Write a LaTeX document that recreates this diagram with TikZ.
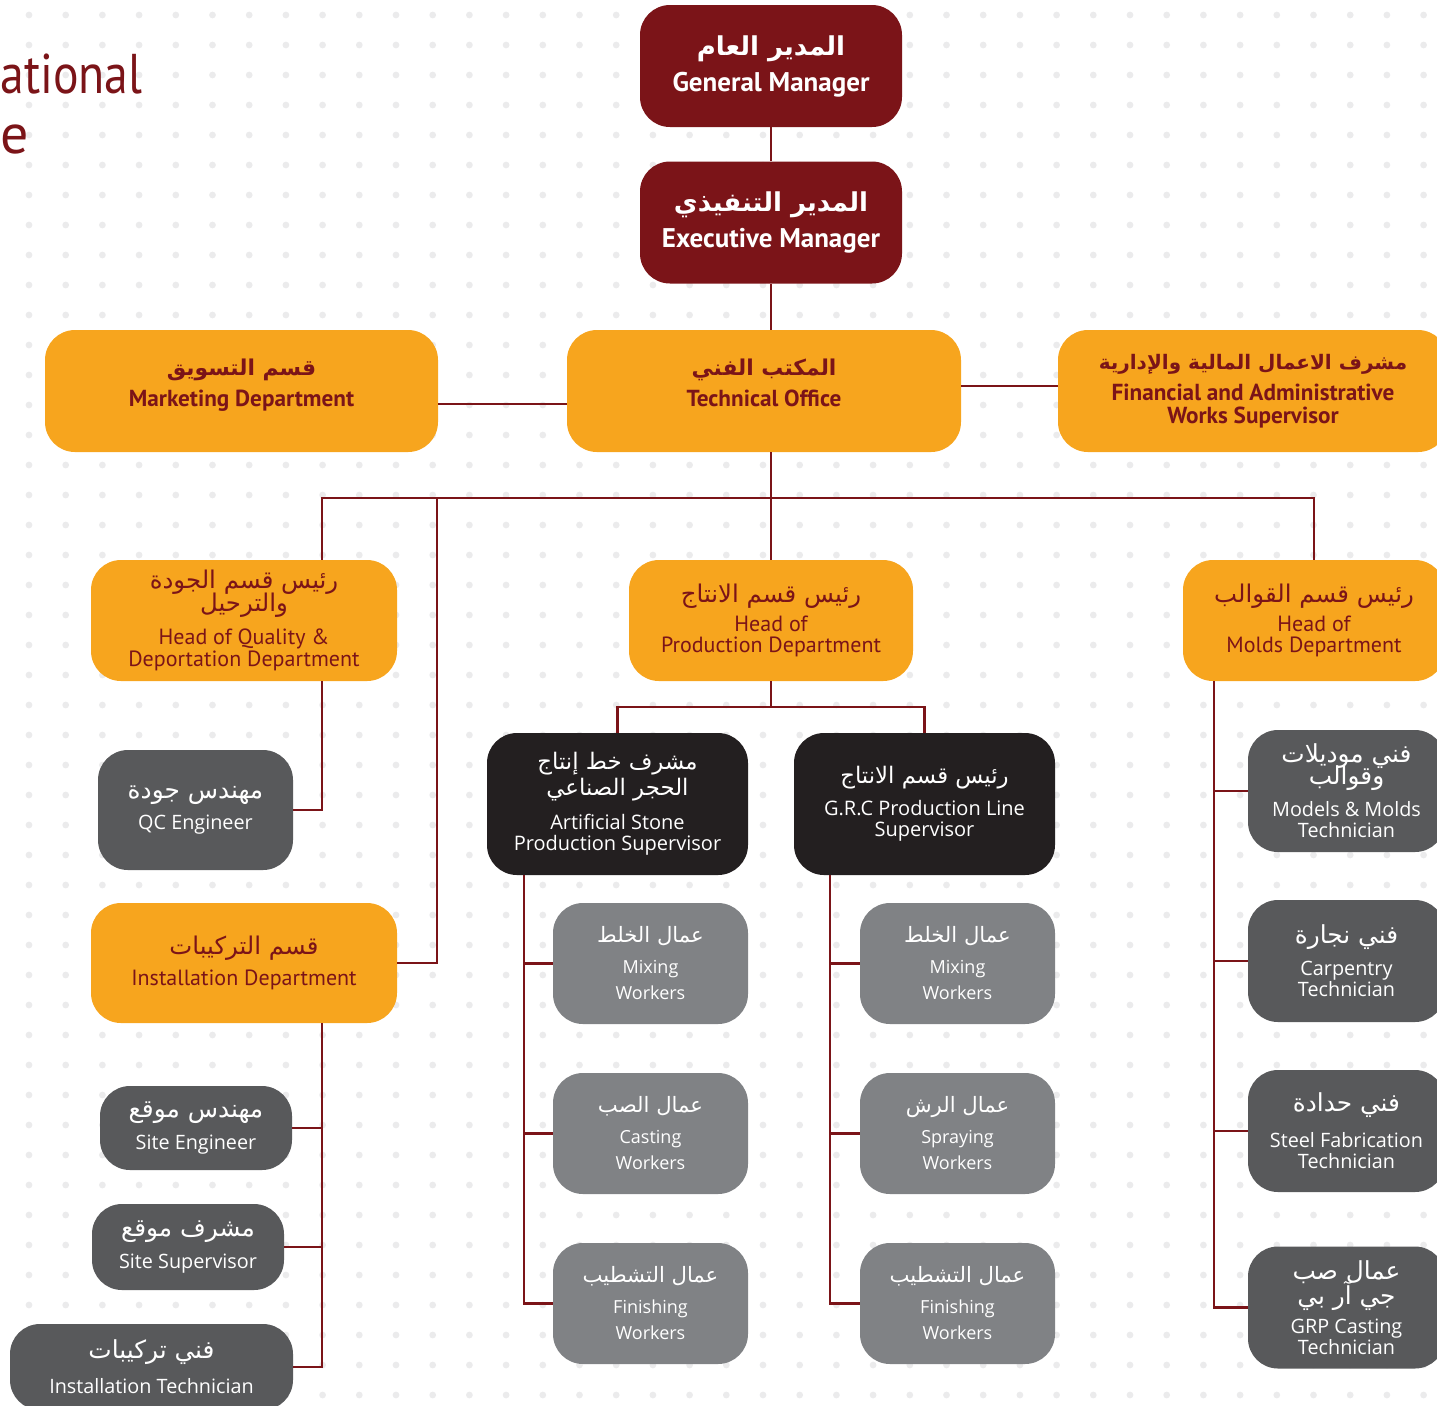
\documentclass[tikz,border=0pt]{standalone}
\usepackage{graphicx}
\usepackage{fontspec}
\setmainfont{PT Sans}
\newfontfamily\opensans{Open Sans}
\newfontfamily\arabicfont[Script=Arabic]{DejaVu Sans}
\TeXXeTstate=1
\def\arsize{12}
\newcommand{\artxt}[1]{{\arabicfont\fontsize{\arsize}{\arsize}\selectfont\beginR #1\endR}}

\definecolor{OrgRed}{HTML}{7B1418}
\definecolor{OrgOrange}{HTML}{F7A51E}
\definecolor{OrgBlack}{HTML}{231F20}
\definecolor{OrgDark}{HTML}{58595B}
\definecolor{OrgGrey}{HTML}{808285}
\definecolor{DotGrey}{HTML}{EBEBEC}

\tikzstyle{OrgBox}=[rectangle, rounded corners=15pt, inner sep=0pt, align=center]
\tikzstyle{TopNode}=[OrgBox, fill=OrgRed, text=white, minimum width=131pt, minimum height=61pt, font=\bfseries\fontsize{13.5}{18}\selectfont\def\arsize{13}]
\tikzstyle{DeptNode}=[OrgBox, fill=OrgOrange, text=OrgRed, minimum height=61pt, font=\bfseries\fontsize{11.6}{11.2}\selectfont\def\arsize{10.9}]
\tikzstyle{HeadNode}=[OrgBox, fill=OrgOrange, text=OrgRed, minimum height=60.5pt, font=\fontsize{11}{10.8}\selectfont\def\arsize{12.2}]
\tikzstyle{SupNode}=[OrgBox, fill=OrgBlack, text=white, minimum width=130.5pt, minimum height=71pt, font=\opensans\fontsize{10}{10.5}\selectfont\def\arsize{11.4}]
\tikzstyle{WorkNode}=[OrgBox, fill=OrgGrey, text=white, minimum width=97.5pt, minimum height=60.5pt, font=\opensans\fontsize{9}{13}\selectfont\def\arsize{10.6}]
\tikzstyle{StaffNode}=[OrgBox, fill=OrgDark, text=white, font=\opensans\fontsize{9.9}{10.5}\selectfont\def\arsize{12.4}]
\tikzstyle{LinkEdge}=[draw=OrgRed, line width=1.4pt]

\begin{document}
\begin{tikzpicture}[x=0.5pt, y=-0.5pt]
\useasboundingbox (0,0) rectangle (1437,1405);

% dotted backdrop
\foreach \i in {0,...,38}
  \foreach \j in {0,...,46}
    \fill[DotGrey] (29+36.7*\i, 15+30*\j) circle (1.7pt);

\node[text=OrgRed, anchor=base west, inner sep=0pt, font=\fontsize{28}{28}\selectfont] (TITLEA) at (0,93) {\resizebox{71pt}{\height}{ational}};
\node[text=OrgRed, anchor=base west, inner sep=0pt, font=\fontsize{28}{28}\selectfont] (TITLEB) at (0,153) {e};

% management
\node[TopNode] (GM) at (771,66) {\artxt{المدير العام}\\General Manager};
\node[TopNode] (EM) at (771,222.5) {\artxt{المدير التنفيذي}\\Executive Manager};

\node[DeptNode, minimum width=196.5pt] (MKT) at (241.5,391) {\artxt{قسم التسويق}\\[4pt]Marketing Department\\[-3pt]};
\node[DeptNode, minimum width=197pt] (TECH) at (764,391) {\artxt{المكتب الفني}\\[4pt]Technical Office\\[-3pt]};
\node[DeptNode, minimum width=195pt] (FIN) at (1253,391) {\def\arsize{10}\artxt{مشرف الاعمال المالية والإدارية}\\[4.5pt]Financial and Administrative\\Works Supervisor};

% heads of departments
\node[HeadNode, minimum width=153pt] (QHEAD) at (244,620.5) {\artxt{رئيس قسم الجودة}\\[-1.8pt]\artxt{والترحيل}\\[4.7pt]Head of Quality \&\\Deportation Department};
\node[HeadNode, minimum width=142pt] (PHEAD) at (771,620.5) {\artxt{رئيس قسم الانتاج}\\[3.7pt]Head of\\Production Department};
\node[HeadNode, minimum width=131pt] (MHEAD) at (1314,620.5) {\artxt{رئيس قسم القوالب}\\[3.7pt]Head of\\Molds Department};
\node[HeadNode, minimum width=153pt, minimum height=60pt] (INST) at (244,963) {\artxt{قسم التركيبات}\\[4.7pt]Installation Department};

% quality and installation staff
\node[StaffNode, minimum width=97.5pt, minimum height=60pt] (QC) at (195.5,810) {\artxt{مهندس جودة}\\[5pt]QC Engineer};
\node[StaffNode, minimum width=96pt, minimum height=42pt] (SITEENG) at (196,1128) {\artxt{مهندس موقع}\\[5.5pt]Site Engineer};
\node[StaffNode, minimum width=96pt, minimum height=43pt] (SITESUP) at (188,1247) {\artxt{مشرف موقع}\\[5.5pt]Site Supervisor};
\node[StaffNode, minimum width=141.5pt, minimum height=43pt] (INSTTECH) at (151.5,1367) {\artxt{فني تركيبات}\\[6pt]Installation Technician};

% production lines
\node[SupNode] (STONE) at (617.5,804) {\artxt{مشرف خط إنتاج}\\[0.5pt]\artxt{الحجر الصناعي}\\[6.5pt]Artificial Stone\\Production Supervisor};
\node[SupNode] (GRC) at (924.5,804) {\artxt{رئيس قسم الانتاج}\\[5.5pt]G.R.C Production Line\\Supervisor};

\node[WorkNode] (STONE1) at (650.5,963.5) {\artxt{عمال الخلط}\\[2.5pt]Mixing\\Workers};
\node[WorkNode] (STONE2) at (650.5,1133.5) {\artxt{عمال الصب}\\[2.5pt]Casting\\Workers};
\node[WorkNode] (STONE3) at (650.5,1303.5) {\artxt{عمال التشطيب}\\[2.5pt]Finishing\\Workers};
\node[WorkNode] (GRC1) at (957.5,963.5) {\artxt{عمال الخلط}\\[2.5pt]Mixing\\Workers};
\node[WorkNode] (GRC2) at (957.5,1133.5) {\artxt{عمال الرش}\\[2.5pt]Spraying\\Workers};
\node[WorkNode] (GRC3) at (957.5,1303.5) {\artxt{عمال التشطيب}\\[2.5pt]Finishing\\Workers};

% molds technicians
\node[StaffNode, minimum width=98.5pt, minimum height=61pt] (MOLDTECH) at (1346.5,791) {\artxt{فني موديلات}\\[-2.5pt]\artxt{وقوالب}\\[4.5pt]Models \& Molds\\Technician};
\node[StaffNode, minimum width=98.5pt, minimum height=61pt] (CARPTECH) at (1346.5,961) {\artxt{فني نجارة}\\[5.5pt]Carpentry\\Technician};
\node[StaffNode, minimum width=98.5pt, minimum height=61pt] (STEELTECH) at (1346.5,1131) {\artxt{فني حدادة}\\[6.5pt]Steel Fabrication\\Technician};
\node[StaffNode, minimum width=98.5pt, minimum height=61pt] (GRPTECH) at (1346.5,1307.5) {\artxt{عمال صب}\\[-2pt]\artxt{جي آر بي}\\[4pt]GRP Casting\\Technician};

% links
\coordinate (BusL) at (322,498);
\coordinate (BusI) at (437,498);
\coordinate (BusR) at (1314,498);
\coordinate (ProdBus) at (771,707);
\coordinate (StoneTrunk) at (524,875);
\coordinate (GrcTrunk) at (830,875);
\coordinate (MoldTrunk) at (1214,681);

\draw[LinkEdge] (GM) -- (EM);
\draw[LinkEdge] (EM) -- (EM |- TECH.north);
\draw[LinkEdge] ([yshift=-6.5pt]MKT.east) -- ([yshift=-6.5pt]TECH.west);
\draw[LinkEdge] ([yshift=2.5pt]TECH.east) -- ([yshift=2.5pt]FIN.west);
\draw[LinkEdge] (EM |- TECH.south) -- (PHEAD.north);
\draw[LinkEdge] (BusL |- QHEAD.north) -- (BusL) -- (BusR) -- (MHEAD.north);
\draw[LinkEdge] (BusI) |- (INST.east);
\draw[LinkEdge] (BusL |- QHEAD.south) |- (QC.east);
\draw[LinkEdge] (BusL |- INST.south) |- (INSTTECH.east);
\draw[LinkEdge] (SITEENG.east) -- (SITEENG.east -| BusL);
\draw[LinkEdge] (SITESUP.east) -- (SITESUP.east -| BusL);

\draw[LinkEdge] (PHEAD.south) -- (ProdBus);
\draw[LinkEdge] (STONE.north) |- (ProdBus) -| (GRC.north);

\draw[LinkEdge] (StoneTrunk) |- (STONE3.west);
\draw[LinkEdge] (STONE1.west) -- (STONE1.west -| StoneTrunk);
\draw[LinkEdge] (STONE2.west) -- (STONE2.west -| StoneTrunk);
\draw[LinkEdge] (GrcTrunk) |- (GRC3.west);
\draw[LinkEdge] (GRC1.west) -- (GRC1.west -| GrcTrunk);
\draw[LinkEdge] (GRC2.west) -- (GRC2.west -| GrcTrunk);

\draw[LinkEdge] (MoldTrunk) |- (GRPTECH.west);
\draw[LinkEdge] (MOLDTECH.west) -- (MOLDTECH.west -| MoldTrunk);
\draw[LinkEdge] (CARPTECH.west) -- (CARPTECH.west -| MoldTrunk);
\draw[LinkEdge] (STEELTECH.west) -- (STEELTECH.west -| MoldTrunk);
\end{tikzpicture}
\end{document}
